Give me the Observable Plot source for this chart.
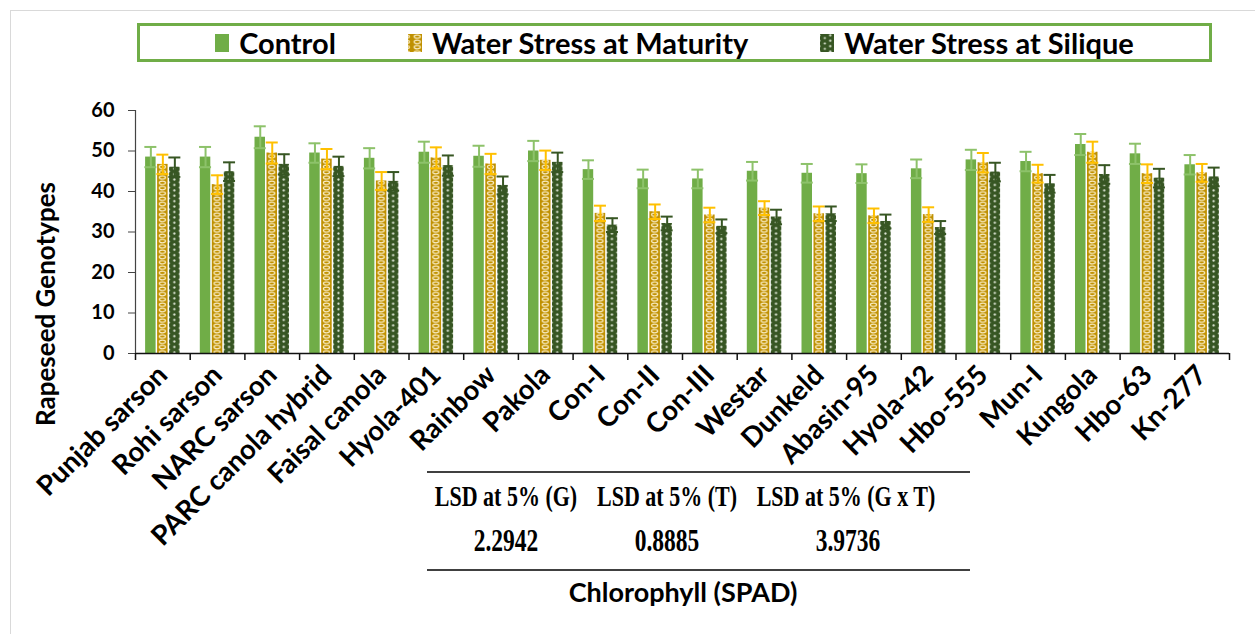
<!DOCTYPE html>
<html>
<head>
<meta charset="utf-8">
<script src="https://cdn.jsdelivr.net/npm/d3@7"></script>
<script src="https://cdn.jsdelivr.net/npm/@observablehq/plot@0.6"></script>
<style>
  body { margin: 0; background: #fff; overflow: hidden; }
  #wrap { position: relative; width: 1255px; height: 634px; overflow: hidden; font-family: Lato, "Open Sans", sans-serif; color: #000; }
  #frame { position: absolute; left: 10px; top: 10px; width: 1400px; height: 800px; border: 1.5px solid #d9d9d9; box-sizing: border-box; }
  #chart { position: absolute; left: 0; top: 0; }
  #legend { position: absolute; left: 137px; top: 23px; width: 1075px; height: 39px; border: 3px solid #70AD47; box-sizing: border-box;
            display: flex; justify-content: center; align-items: center; gap: 72px; font-weight: 700; font-size: 29px; background: #fff; }
  #legend .item { display: flex; align-items: center; gap: 10px; white-space: nowrap; }
  #legend svg { display: block; }
  #ytitle { position: absolute; left: 45px; top: 304px; transform: translate(-50%, -50%) rotate(-90deg); font-weight: 700; font-size: 26px; white-space: nowrap; }
  #table { position: absolute; left: 427px; top: 460px; }
  #caption { position: absolute; left: 683px; top: 591px; transform: translate(-50%, -50%); font-weight: 700; font-size: 27px; white-space: nowrap; }
</style>
</head>
<body>
<div id="wrap">
  <div id="frame"></div>
  <div id="chart"></div>
  <div id="legend"></div>
  <div id="ytitle"></div>
  <svg id="table" width="545" height="115"></svg>
  <div id="caption"></div>
</div>
<script>
// ---------------- data ----------------
const genotypes = ["Punjab sarson","Rohi sarson","NARC sarson","PARC canola hybrid","Faisal canola","Hyola-401","Rainbow","Pakola","Con-I","Con-II","Con-III","Westar","Dunkeld","Abasin-95","Hyola-42","Hbo-555","Mun-I","Kungola","Hbo-63","Kn-277"];
const seriesNames = ["Control", "Water Stress at Maturity", "Water Stress at Silique"];
const control     = [48.5,48.5,53.4,49.5,48.2,49.7,48.7,50.0,45.4,43.1,43.1,45.0,44.5,44.4,45.6,47.8,47.4,51.6,49.3,46.6];
const controlErr  = [2.5,2.5,2.7,2.4,2.5,2.6,2.6,2.5,2.3,2.3,2.3,2.3,2.3,2.3,2.3,2.5,2.4,2.6,2.5,2.4];
const maturity    = [46.7,41.7,49.5,48.0,42.6,48.3,46.8,47.7,34.6,35.0,34.2,35.9,34.5,34.0,34.3,47.1,44.4,49.7,44.4,44.6];
const maturityErr = [2.4,2.3,2.6,2.5,2.2,2.6,2.5,2.4,1.9,1.8,1.8,1.7,1.8,1.8,1.8,2.4,2.2,2.6,2.3,2.2];
const silique     = [46.0,44.9,46.7,46.2,42.5,46.4,41.5,47.2,31.7,32.1,31.4,33.7,34.5,32.6,31.1,44.8,41.9,44.2,43.3,43.6];
const siliqueErr  = [2.4,2.3,2.5,2.4,2.3,2.5,2.2,2.4,1.7,1.7,1.7,1.8,1.8,1.7,1.6,2.3,2.2,2.3,2.3,2.3];
const yTicks = [0, 10, 20, 30, 40, 50, 60];
const lsdLabels = ["LSD at 5% (G)", "LSD at 5% (T)", "LSD at 5% (G x T)"];
const lsdValues = ["2.2942", "0.8885", "3.9736"];
const yTitle = "Rapeseed Genotypes";
const xTitle = "Chlorophyll (SPAD)";

// ---------------- styles / layout ----------------
const W = 1255, H = 634, ML = 135, MR = 26, MT = 110, MB = 281;
const step = (W - ML - MR) / genotypes.length;
const barPx = 10.5, offPx = [-12, 0, 12], capPx = 6;
const seriesValues = [control, maturity, silique];
const seriesErrs = [controlErr, maturityErr, siliqueErr];
const seriesFill = ["#70AD47", "url(#patMat)", "url(#patSil)"];
const errColor = ["#8DC26A", "#FFC000", "#375623"];

const rows = seriesNames.map((s, j) => genotypes.map((g, i) => ({
  i, g, s, j, v: seriesValues[j][i], e: seriesErrs[j][i],
  c: i + offPx[j] / step
})));
const half = barPx / 2 / step, cap = capPx / step;
const boundaries = d3.range(genotypes.length + 1).map(k => k - 0.5);

const marks = [];
rows.forEach((data, j) => {
  marks.push(Plot.rectY(data, {x1: d => d.c - half, x2: d => d.c + half, y1: 0, y2: d => d.v, fill: seriesFill[j]}));
});
rows.forEach((data, j) => {
  marks.push(Plot.ruleX(data, {x: "c", y1: d => d.v - d.e, y2: d => d.v + d.e, stroke: errColor[j], strokeWidth: 2}));
  marks.push(Plot.ruleY(data, {y: d => d.v + d.e, x1: d => d.c - cap, x2: d => d.c + cap, stroke: errColor[j], strokeWidth: 2}));
  marks.push(Plot.ruleY(data, {y: d => d.v - d.e, x1: d => d.c - cap, x2: d => d.c + cap, stroke: errColor[j], strokeWidth: 2}));
});
marks.push(Plot.ruleY([yTicks[0]], {stroke: "#111", strokeWidth: 1.5}));
marks.push(Plot.ruleX([boundaries[0]], {y1: yTicks[0], y2: yTicks[yTicks.length - 1], stroke: "#444", strokeWidth: 1.2}));
marks.push(Plot.axisY({ticks: yTicks, tickSize: 7, tickPadding: 14, fontSize: 20, fontWeight: "bold", label: null, stroke: "#444"}));
marks.push(Plot.axisX({ticks: boundaries, tickSize: 7, tickFormat: () => "", label: null, stroke: "#111", strokeWidth: 1.5}));
marks.push(Plot.axisX({ticks: d3.range(genotypes.length), tickSize: 0, tickPadding: 17, tickRotate: -45,
  tickFormat: i => genotypes[i], fontSize: 27.5, fontWeight: "bold", label: null}));

const svg = Plot.plot({
  width: W, height: H,
  marginLeft: ML, marginRight: MR, marginTop: MT, marginBottom: MB,
  x: {type: "linear", domain: [boundaries[0], boundaries[boundaries.length - 1]]},
  y: {domain: [yTicks[0], yTicks[yTicks.length - 1]]},
  style: {fontFamily: "Lato, sans-serif", color: "#000", background: "transparent", overflow: "visible"},
  marks
});

// patterns aligned to the bars
const tileW = step / 5;
const mod = (a, b) => ((a % b) + b) % b;
const defs = d3.select(svg).insert("defs", ":first-child");
function tileX(j) { return mod(ML + step / 2 + offPx[j] - tileW / 2, tileW); }
const pm = defs.append("pattern").attr("id", "patMat").attr("patternUnits", "userSpaceOnUse")
  .attr("x", tileX(1)).attr("y", 0).attr("width", tileW).attr("height", 5.3);
pm.append("rect").attr("width", tileW).attr("height", 5.3).attr("fill", "#BF9000");
pm.append("ellipse").attr("cx", tileW / 2).attr("cy", 2.65).attr("rx", 3.1).attr("ry", 1.6)
  .attr("fill", "none").attr("stroke", "#FBEFC8").attr("stroke-width", 1.2);
const ps = defs.append("pattern").attr("id", "patSil").attr("patternUnits", "userSpaceOnUse")
  .attr("x", tileX(2)).attr("y", 0).attr("width", tileW).attr("height", 5.4);
ps.append("rect").attr("width", tileW).attr("height", 5.4).attr("fill", "#375623");
ps.append("circle").attr("cx", tileW / 2).attr("cy", 1.35).attr("r", 1.1).attr("fill", "#E4EBDC");
ps.append("circle").attr("cx", 0.3).attr("cy", 4.05).attr("r", 1.0).attr("fill", "#C9D5BE");
ps.append("circle").attr("cx", tileW - 0.3).attr("cy", 4.05).attr("r", 1.0).attr("fill", "#C9D5BE");

document.getElementById("chart").appendChild(svg);

// legend
const legend = d3.select("#legend");
seriesNames.forEach((name, j) => {
  const item = legend.append("div").attr("class", "item");
  const sw = item.append("svg").attr("width", 14).attr("height", 18);
  sw.append("rect").attr("width", 14).attr("height", 18).attr("fill", seriesFill[j]);
  item.append("span").text(name);
});

// titles
document.getElementById("ytitle").textContent = yTitle;
document.getElementById("caption").textContent = xTitle;

// LSD table
const tbl = d3.select("#table");
tbl.append("line").attr("x1", 0).attr("x2", 543).attr("y1", 12).attr("y2", 12).attr("stroke", "#000").attr("stroke-width", 1.3);
tbl.append("line").attr("x1", 0).attr("x2", 543).attr("y1", 110).attr("y2", 110).attr("stroke", "#000").attr("stroke-width", 1.3);
const colX = [79, 240, 419];
const serif = "'Liberation Serif', 'Times New Roman', serif";
lsdLabels.forEach((t, k) => {
  tbl.append("text").attr("transform", `translate(${colX[k]},46) scale(1,1.35)`).attr("text-anchor", "middle")
    .attr("font-family", serif).attr("font-weight", "bold").attr("font-size", 22).text(t);
  tbl.append("text").attr("transform", `translate(${colX[k] + (k === 2 ? 2 : 0)},91) scale(1,1.35)`).attr("text-anchor", "middle")
    .attr("font-family", serif).attr("font-weight", "bold").attr("font-size", 23.5).text(lsdValues[k]);
});
</script>
</body>
</html>
